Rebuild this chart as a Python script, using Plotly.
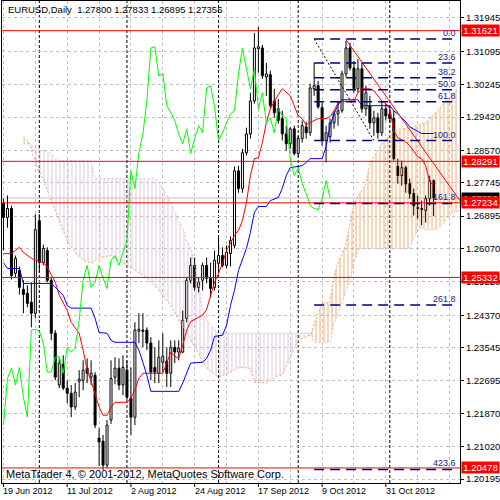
import plotly.graph_objects as go

# ------------------------------------------------------------------ data
TITLE = "EURUSD,Daily\u00a0 1.27800 1.27833 1.26895 1.27356"
COPYRIGHT = "MetaTrader 4, \u00a9 2001-2012, MetaQuotes Software Corp."

DATE_LABELS = ["19 Jun 2012", "11 Jul 2012", "2 Aug 2012", "24 Aug 2012",
               "17 Sep 2012", "9 Oct 2012", "31 Oct 2012"]
DATE_LABEL_BARS = [0, 16, 32, 48, 64, 80, 96]
MONTH_START_BARS = [9, 31, 54, 74, 97]

OPEN = [1.2722, 1.2686, 1.2709, 1.2544, 1.2551, 1.2503, 1.2493, 1.2470, 1.2442, 1.2678,
        1.2571, 1.2602, 1.2526, 1.2391, 1.2259, 1.2312, 1.2251, 1.2238, 1.2203, 1.2269,
        1.2271, 1.2302, 1.2279, 1.2284, 1.2124, 1.2116, 1.2055, 1.2170, 1.2279, 1.2302,
        1.2259, 1.2297, 1.2226, 1.2177, 1.2396, 1.2399, 1.2399, 1.2366, 1.2304, 1.2289,
        1.2317, 1.2320, 1.2289, 1.2355, 1.2343, 1.2343, 1.2429, 1.2526, 1.2564, 1.2508,
        1.2526, 1.2564, 1.2531, 1.2508, 1.2569, 1.2589, 1.2564, 1.2594, 1.2615, 1.2805,
        1.2760, 1.2851, 1.2899, 1.2983, 1.3116, 1.3118, 1.3044, 1.3050, 1.2983, 1.2963,
        1.2938, 1.2899, 1.2874, 1.2912, 1.2849, 1.2887, 1.2917, 1.2902, 1.3014, 1.3022,
        1.2966, 1.2882, 1.2892, 1.2927, 1.2950, 1.2958, 1.3052, 1.3118, 1.3067, 1.3014,
        1.3065, 1.2963, 1.2971, 1.2927, 1.2940, 1.2902, 1.2963, 1.2950, 1.2938, 1.2816,
        1.2793, 1.2813, 1.2772, 1.2747, 1.2711, 1.2709, 1.2704, 1.2734, 1.27800]
HIGH = [1.2734, 1.2742, 1.2716, 1.2589, 1.2561, 1.2526, 1.2513, 1.2521, 1.2694, 1.2694,
        1.2617, 1.2610, 1.2533, 1.2399, 1.2330, 1.2335, 1.2271, 1.2259, 1.2264, 1.2297,
        1.2322, 1.2327, 1.2322, 1.2292, 1.2149, 1.2132, 1.2170, 1.2322, 1.2330, 1.2327,
        1.2335, 1.2322, 1.2304, 1.2419, 1.2442, 1.2442, 1.2406, 1.2381, 1.2355, 1.2373,
        1.2391, 1.2355, 1.2373, 1.2373, 1.2373, 1.2449, 1.2533, 1.2584, 1.2584, 1.2533,
        1.2571, 1.2584, 1.2571, 1.2602, 1.2635, 1.2610, 1.2615, 1.2638, 1.2816, 1.2818,
        1.2861, 1.2915, 1.3004, 1.3156, 1.3172, 1.3126, 1.3080, 1.3060, 1.3014, 1.2988,
        1.2958, 1.2920, 1.2917, 1.2920, 1.2894, 1.2933, 1.2930, 1.3027, 1.3080, 1.3034,
        1.2978, 1.2920, 1.2938, 1.2958, 1.2983, 1.3060, 1.3136, 1.3131, 1.3085, 1.3090,
        1.3080, 1.3022, 1.2996, 1.2958, 1.2953, 1.2983, 1.2976, 1.2971, 1.2958, 1.2836,
        1.2831, 1.2818, 1.2785, 1.2760, 1.2742, 1.2729, 1.2742, 1.2793, 1.27833]
LOW = [1.2602, 1.2660, 1.2528, 1.2533, 1.2490, 1.2442, 1.2457, 1.2406, 1.2429, 1.2546,
       1.2564, 1.2521, 1.2373, 1.2271, 1.2251, 1.2246, 1.2213, 1.2177, 1.2195, 1.2228,
       1.2246, 1.2264, 1.2259, 1.2149, 1.2053, 1.2043, 1.2048, 1.2160, 1.2261, 1.2246,
       1.2233, 1.2221, 1.2132, 1.2157, 1.2366, 1.2355, 1.2348, 1.2271, 1.2264, 1.2264,
       1.2292, 1.2254, 1.2254, 1.2315, 1.2322, 1.2340, 1.2419, 1.2518, 1.2500, 1.2495,
       1.2500, 1.2518, 1.2482, 1.2500, 1.2551, 1.2559, 1.2556, 1.2561, 1.2607, 1.2749,
       1.2749, 1.2844, 1.2887, 1.2976, 1.3055, 1.3039, 1.2996, 1.2963, 1.2940, 1.2925,
       1.2882, 1.2856, 1.2861, 1.2844, 1.2841, 1.2877, 1.2887, 1.2894, 1.2996, 1.2963,
       1.2869, 1.2826, 1.2877, 1.2912, 1.2920, 1.2953, 1.3044, 1.3060, 1.3004, 1.3004,
       1.2953, 1.2945, 1.2912, 1.2894, 1.2887, 1.2894, 1.2933, 1.2927, 1.2831, 1.2772,
       1.2767, 1.2749, 1.2734, 1.2691, 1.2683, 1.2666, 1.2673, 1.2716, 1.26895]
CLOSE = [1.2686, 1.2709, 1.2538, 1.2582, 1.2508, 1.2490, 1.2467, 1.2442, 1.2655, 1.2571,
         1.2607, 1.2526, 1.2391, 1.2279, 1.2315, 1.2251, 1.2238, 1.2203, 1.2241, 1.2274,
         1.2297, 1.2289, 1.2289, 1.2157, 1.2114, 1.2055, 1.2157, 1.2276, 1.2302, 1.2259,
         1.2304, 1.2228, 1.2177, 1.2399, 1.2401, 1.2396, 1.2366, 1.2292, 1.2292, 1.2330,
         1.2332, 1.2289, 1.2355, 1.2343, 1.2353, 1.2424, 1.2526, 1.2564, 1.2508, 1.2521,
         1.2564, 1.2531, 1.2505, 1.2577, 1.2589, 1.2564, 1.2597, 1.2627, 1.2805, 1.2760,
         1.2851, 1.2899, 1.2983, 1.3118, 1.3121, 1.3047, 1.3052, 1.2971, 1.2953, 1.2933,
         1.2899, 1.2874, 1.2912, 1.2849, 1.2887, 1.2920, 1.2902, 1.3016, 1.3022, 1.2968,
         1.2882, 1.2902, 1.2927, 1.2950, 1.2958, 1.3052, 1.3118, 1.3067, 1.3014, 1.3065,
         1.2963, 1.3004, 1.2927, 1.2940, 1.2902, 1.2963, 1.2945, 1.2938, 1.2836, 1.2793,
         1.2813, 1.2772, 1.2747, 1.2716, 1.2709, 1.2706, 1.2734, 1.2780, 1.27356]

TENKAN_X = [0, 2, 3, 4, 5, 7, 8, 10, 11, 12, 13, 14, 15, 16, 17, 19, 20, 21, 22, 23, 24, 25, 26,
            27, 28, 31, 32, 33, 34, 35, 40, 41, 42, 43, 44, 45, 46, 47, 50, 51, 52, 53, 54, 55,
            56, 58, 59, 60, 61, 62, 63, 64, 65, 66, 67, 68, 69, 70, 71, 72, 73, 74, 75, 76, 77,
            78, 79, 81, 82, 83, 84, 85, 88, 89, 90, 92, 93, 94, 95, 96, 97, 98, 99, 100, 101,
            102, 103, 104, 105, 106, 107, 108]
TENKAN_Y = [1.2594, 1.2594, 1.2602, 1.2610, 1.2597, 1.2582, 1.2577, 1.2571, 1.2559, 1.2538,
            1.2521, 1.2488, 1.2467, 1.2449, 1.2419, 1.2391, 1.2348, 1.2297, 1.2269, 1.2238,
            1.2203, 1.2182, 1.2182, 1.2203, 1.2215, 1.2215, 1.2226, 1.2246, 1.2276, 1.2289,
            1.2289, 1.2315, 1.2343, 1.2332, 1.2327, 1.2360, 1.2399, 1.2421, 1.2437, 1.2452,
            1.2485, 1.2521, 1.2544, 1.2569, 1.2602, 1.2640, 1.2653, 1.2678, 1.2724, 1.2793,
            1.2836, 1.2838, 1.2877, 1.2928, 1.2963, 1.2983, 1.2999, 1.3014, 1.3004, 1.2996,
            1.2971, 1.2945, 1.2938, 1.2922, 1.2928, 1.2933, 1.2938, 1.2938, 1.2943, 1.2958,
            1.2978, 1.2981, 1.2983, 1.3004, 1.3014, 1.3014, 1.3009, 1.2996, 1.2983, 1.2976,
            1.2963, 1.2907, 1.2889, 1.2884, 1.2879, 1.2869, 1.2856, 1.2841, 1.2836, 1.2818,
            1.2777, 1.2767]

KIJUN_X = [0, 1, 4, 5, 12, 13, 14, 15, 16, 17, 22, 23, 24, 26, 27, 28, 33, 34, 35, 36, 37, 44,
           45, 46, 47, 50, 51, 52, 53, 55, 56, 57, 58, 59, 60, 61, 62, 63, 64, 66, 67, 69, 70,
           71, 72, 75, 76, 77, 80, 81, 82, 83, 84, 85, 89, 90, 97, 98, 99, 100, 101, 102, 103,
           104, 105, 108]
KIJUN_Y = [1.2571, 1.2556, 1.2556, 1.2518, 1.2518, 1.2508, 1.2500, 1.2488, 1.2462, 1.2455,
           1.2455, 1.2429, 1.2393, 1.2391, 1.2373, 1.2368, 1.2368, 1.2348, 1.2317, 1.2284,
           1.2243, 1.2243, 1.2264, 1.2292, 1.2315, 1.2317, 1.2327, 1.2348, 1.2383, 1.2386,
           1.2411, 1.2462, 1.2500, 1.2551, 1.2582, 1.2607, 1.2648, 1.2699, 1.2714, 1.2714,
           1.2729, 1.2737, 1.2760, 1.2793, 1.2813, 1.2818, 1.2826, 1.2836, 1.2836, 1.2866,
           1.2920, 1.2950, 1.2973, 1.2986, 1.2986, 1.2971, 1.2971, 1.2958, 1.2950, 1.2940,
           1.2930, 1.2917, 1.2912, 1.2907, 1.2900, 1.2900]

SPAN_A_X = [5, 6, 6.5, 7, 8, 10, 12, 14, 16, 18, 20, 22, 24, 27, 29, 32, 36, 39, 42, 44,
            47, 49, 50, 52, 54, 57, 59, 62, 63, 66, 69, 70, 72, 74, 77, 77.3, 78, 80, 82, 83,
            84, 86, 87, 88, 91, 92, 95, 98, 100, 103, 106, 109, 112, 114.7]
SPAN_A_Y = [1.2892, 1.2882, 1.2874, 1.2856, 1.2826, 1.2780, 1.2729, 1.2673, 1.2627,
            1.2597, 1.2577, 1.2569, 1.2584, 1.2589, 1.2577, 1.2559, 1.2533, 1.2500, 1.2462,
            1.2424, 1.2373, 1.2340, 1.2317, 1.2292, 1.2279, 1.2292, 1.2304, 1.2302, 1.2266,
            1.2264, 1.2284, 1.2284, 1.2330, 1.2373, 1.2386, 1.2388, 1.2416, 1.2467, 1.2470,
            1.2538, 1.2569, 1.2620, 1.2671, 1.2722, 1.2772, 1.2823, 1.2874, 1.2907, 1.2912,
            1.2917, 1.2928, 1.2958, 1.2994, 1.3019]

SPAN_B_X = [5, 6.5, 8, 10, 12, 13, 14, 22, 23, 38, 39, 40, 41, 42, 43, 44, 45, 46, 47, 48, 49,
            50, 52, 54, 77, 77.3, 78, 82, 83, 85, 86, 87, 88, 89, 90, 102, 103, 104, 105, 106,
            109, 110, 111, 112, 113, 114.7]
SPAN_B_Y = [1.2874, 1.2874, 1.2864, 1.2856, 1.2849, 1.2836, 1.2831, 1.2831, 1.2785, 1.2785,
            1.2775, 1.2760, 1.2747, 1.2722, 1.2699, 1.2678, 1.2660, 1.2627, 1.2610, 1.2564,
            1.2518, 1.2442, 1.2411, 1.2391, 1.2391, 1.2388, 1.2368, 1.2368, 1.2416, 1.2467,
            1.2500, 1.2526, 1.2569, 1.2602, 1.2607, 1.2607, 1.2635, 1.2653, 1.2660, 1.2655,
            1.2655, 1.2666, 1.2678, 1.2691, 1.2699, 1.2704]

# bars where span A and span B swap places (cloud colour changes)
KUMO_EDGES = [5, 6.5, 77.3, 114.7]
KUMO_COLORS = ["#F4A460", "#D8BFD8", "#F4A460"]

HLINES = [1.31621, 1.28291, 1.27234, 1.25332, 1.20478]
BID = 1.27356

FIB_LEVELS = [0.0, 23.6, 38.2, 50.0, 61.8, 100.0, 161.8, 261.8, 423.6]
FIB_HIGH = 1.3141
FIB_LOW = 1.2882
FIB_BARS = [78, 93]
FIB_LINE_END = 113.8

TREND_X = [86, 114.6]
TREND_Y = [1.3139, 1.2729]

YTICKS = [1.31945, 1.31095, 1.30245, 1.29420, 1.28570, 1.27745, 1.26895, 1.26070,
          1.25220, 1.24370, 1.23545, 1.22695, 1.21870, 1.21020, 1.20195]

# ------------------------------------------------------------------ layout constants
W, H = 500, 500
ML, MR, MT, MB = 2, 38, 0, 17
PW, PH = W - ML - MR, H - MT - MB
FONT = "Liberation Sans, Arial, sans-serif"
X_RANGE = [-0.375, 114.625]
Y_RANGE = [1.20094, 1.32377]


def pxx(xpix):
    return (xpix - ML) / PW


def pxy(ypix):
    return 1 - (ypix - MT) / PH


fig = go.Figure()

# candle bodies
n = len(OPEN)
bars = list(range(n))
bases = [min(o, c) for o, c in zip(OPEN, CLOSE)]
heights = [abs(c - o) for o, c in zip(OPEN, CLOSE)]
colors = ["white" if c >= o else "black" for o, c in zip(OPEN, CLOSE)]
fig.add_trace(go.Bar(x=bars, y=heights, base=bases, width=0.5,
                     marker=dict(color=colors, line=dict(color="black", width=1)),
                     hoverinfo="skip"))

# Ichimoku cloud hatching
for k in range(len(KUMO_COLORS)):
    lo, hi = KUMO_EDGES[k], KUMO_EDGES[k + 1]
    bx = [x for x in SPAN_B_X if lo <= x <= hi]
    by = [y for x, y in zip(SPAN_B_X, SPAN_B_Y) if lo <= x <= hi]
    ax = [x for x in SPAN_A_X if lo <= x <= hi]
    ay = [y for x, y in zip(SPAN_A_X, SPAN_A_Y) if lo <= x <= hi]
    fig.add_trace(go.Scatter(x=bx, y=by, mode="lines", line=dict(width=0),
                             hoverinfo="skip"))
    fig.add_trace(go.Scatter(x=ax, y=ay, mode="lines", line=dict(width=0),
                             fill="tonexty", fillcolor="rgba(0,0,0,0)",
                             fillpattern=dict(shape="|", size=4, solidity=0.25,
                                              fgcolor=KUMO_COLORS[k], fgopacity=0.9,
                                              bgcolor="rgba(0,0,0,0)"),
                             hoverinfo="skip"))

fig.add_trace(go.Scatter(x=SPAN_A_X, y=SPAN_A_Y, mode="lines",
                         line=dict(color="#F4A460", width=1, dash="2px,2px")))
fig.add_trace(go.Scatter(x=SPAN_B_X, y=SPAN_B_Y, mode="lines",
                         line=dict(color="#D8BFD8", width=1, dash="2px,2px")))

# candle wicks
wx, wy = [], []
for i in range(n):
    top, bot = max(OPEN[i], CLOSE[i]), min(OPEN[i], CLOSE[i])
    wx += [i, i, None, i, i, None]
    wy += [HIGH[i], top, None, bot, LOW[i], None]
fig.add_trace(go.Scatter(x=wx, y=wy, mode="lines", line=dict(color="black", width=1),
                         hoverinfo="skip"))

# Tenkan, Kijun, Chikou
fig.add_trace(go.Scatter(x=TENKAN_X, y=TENKAN_Y, mode="lines",
                         line=dict(color="#FF0000", width=1)))
fig.add_trace(go.Scatter(x=KIJUN_X, y=KIJUN_Y, mode="lines",
                         line=dict(color="#0000FF", width=1)))
fig.add_trace(go.Scatter(x=[i - 26 for i in range(26, n)], y=CLOSE[26:], mode="lines",
                         line=dict(color="#00FF00", width=1)))

# red trend line
fig.add_trace(go.Scatter(x=TREND_X, y=TREND_Y, mode="lines",
                         line=dict(color="#FF0000", width=1)))

shapes = []
for b in MONTH_START_BARS:
    shapes.append(dict(type="line", xref="x", yref="paper", x0=b, x1=b, y0=0, y1=1,
                       line=dict(color="black", width=1, dash="3px,2px"), layer="between"))
shapes.append(dict(type="line", xref="paper", yref="y", x0=0, x1=1, y0=BID, y1=BID,
                   line=dict(color="#C0C0C0", width=1), layer="between"))
for p in HLINES:
    shapes.append(dict(type="line", xref="paper", yref="y", x0=0, x1=1, y0=p, y1=p,
                       line=dict(color="#FF0000", width=1), layer="above"))
fib_prices = [FIB_HIGH - (FIB_HIGH - FIB_LOW) * lv / 100 for lv in FIB_LEVELS]
for p in fib_prices:
    shapes.append(dict(type="line", xref="x", yref="y", x0=FIB_BARS[0], x1=FIB_LINE_END,
                       y0=p, y1=p, line=dict(color="#000080", width=1.5, dash="10px,6px"),
                       layer="above"))
shapes.append(dict(type="line", xref="x", yref="y", x0=FIB_BARS[0], x1=FIB_BARS[1],
                   y0=FIB_HIGH, y1=FIB_LOW,
                   line=dict(color="black", width=1, dash="2px,2px"), layer="above"))
for b in DATE_LABEL_BARS:
    shapes.append(dict(type="line", xref="x", yref="paper", x0=b, x1=b, y0=0, y1=-4 / PH,
                       line=dict(color="black", width=1)))

ann = []
ann.append(dict(text=TITLE, xref="paper", yref="paper", x=pxx(6), y=pxy(9),
                xanchor="left", yanchor="middle", showarrow=False,
                font=dict(family=FONT, size=9.5, color="black")))
ann.append(dict(text=COPYRIGHT, xref="paper", yref="paper", x=pxx(4), y=pxy(474),
                xanchor="left", yanchor="middle", showarrow=False,
                font=dict(family=FONT, size=11, color="black")))
for b, t in zip(DATE_LABEL_BARS, DATE_LABELS):
    ann.append(dict(text=t, xref="x", yref="paper", x=b, y=pxy(491), xanchor="left",
                    yanchor="middle", xshift=-2, showarrow=False,
                    font=dict(family=FONT, size=9, color="black")))
for lv, p in zip(FIB_LEVELS, fib_prices):
    ann.append(dict(text=f"{lv:.1f}", xref="x", yref="y", x=113.9, y=p, xanchor="right",
                    yanchor="bottom", showarrow=False, borderpad=0,
                    font=dict(family=FONT, size=9, color="#1A1A8C")))
ann.append(dict(text=f"{BID:.5f}", xref="paper", yref="y", x=pxx(463), y=BID,
                xanchor="left", yanchor="middle", showarrow=False, bgcolor="black",
                width=37, height=11, borderpad=0,
                font=dict(family=FONT, size=9.5, color="white")))
for p in HLINES:
    ann.append(dict(text=f"{p:.5f}", xref="paper", yref="y", x=pxx(463), y=p,
                    xanchor="left", yanchor="middle", showarrow=False, bgcolor="#FF0000",
                    width=37, height=11, borderpad=0,
                    font=dict(family=FONT, size=9.5, color="white")))

fig.update_layout(
    width=W, height=H, margin=dict(l=ML, r=MR, t=MT, b=MB),
    paper_bgcolor="white", plot_bgcolor="white", showlegend=False,
    barmode="overlay", shapes=shapes, annotations=ann,
    xaxis=dict(range=X_RANGE, tickmode="linear", tick0=0, dtick=8, showticklabels=False,
               ticks="", showgrid=True, gridcolor="#C0C0C0", griddash="3px,3px",
               gridwidth=1, zeroline=False, showline=True, linecolor="black",
               linewidth=1, mirror=True, fixedrange=True),
    yaxis=dict(range=Y_RANGE, side="right", tickmode="array", tickvals=YTICKS,
               ticktext=[f"{v:.5f}" for v in YTICKS], ticks="outside", ticklen=3,
               tickcolor="black", showgrid=True, gridcolor="#C0C0C0",
               griddash="3px,3px", gridwidth=1, zeroline=False, showline=True,
               linecolor="black", linewidth=1, mirror=True, fixedrange=True,
               tickfont=dict(family=FONT, size=9.5, color="black")),
)

fig.write_html("out.html", config={"displayModeBar": False},
               post_script="document.body.style.margin='0px';"
                           "document.body.style.overflow='hidden';")
